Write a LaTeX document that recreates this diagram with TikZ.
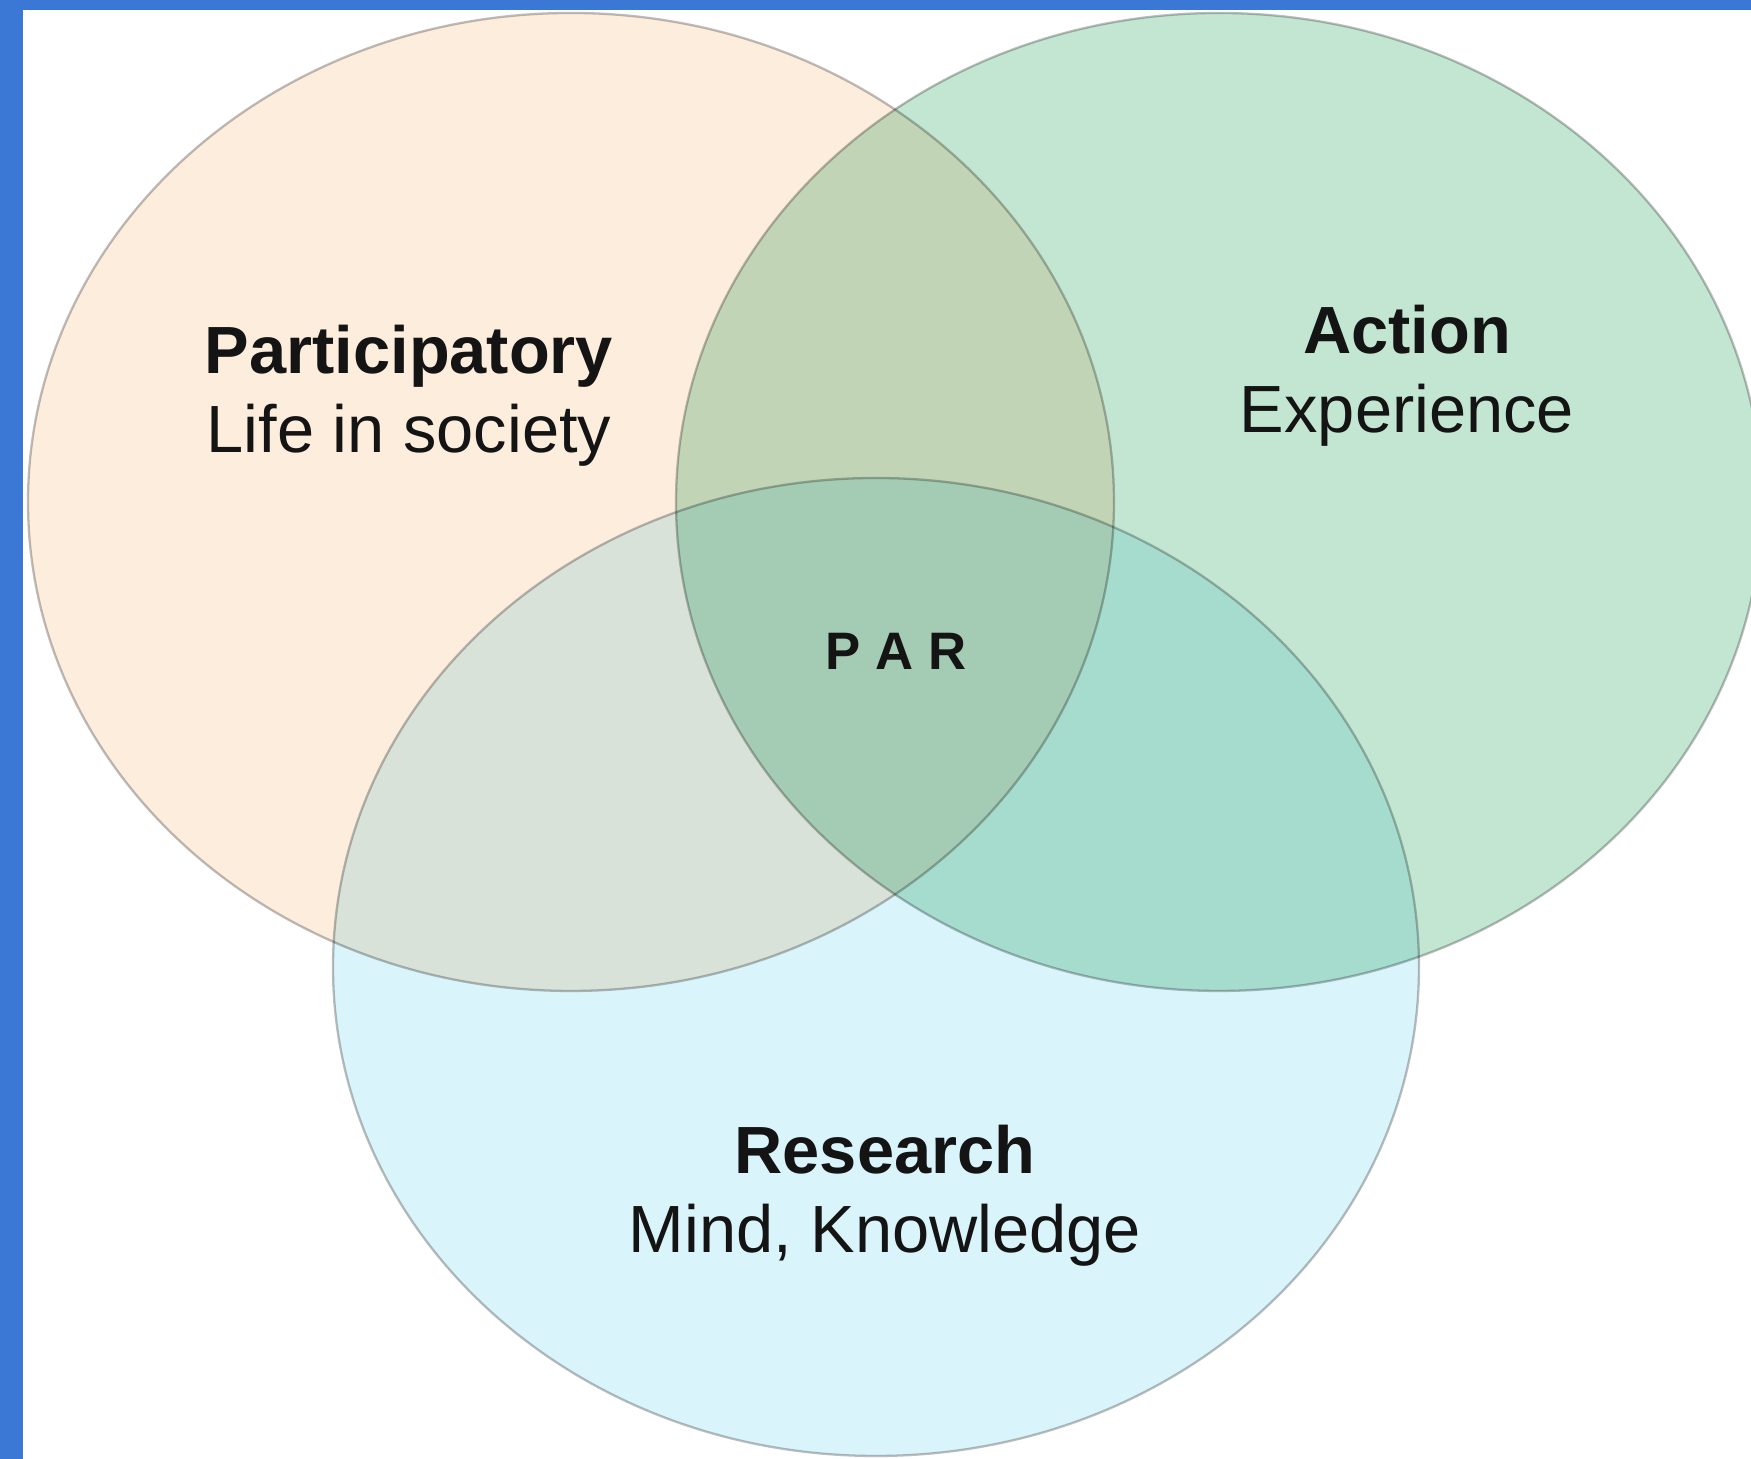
\documentclass[tikz,border=0pt]{standalone}
\usepackage{fontspec}
\setmainfont{Liberation Sans}
\usepackage{tikz}
\usetikzlibrary{positioning}

\definecolor{frameblue}{HTML}{3B78D5}
\definecolor{lifepeach}{HTML}{FDEDDD}
\definecolor{actmint}{HTML}{C3E6D2}
\definecolor{mindcyan}{HTML}{DAF4FB}
\definecolor{rimgray}{HTML}{BDBDBD}

\begin{document}
\begin{tikzpicture}[
  set/.style={draw=rimgray, line width=0.65pt},
  tag/.style={align=center, text=black!92, inner sep=0pt,
    font=\fontsize{19}{22.5}\selectfont}
]
  \useasboundingbox (0,0) rectangle (17.51,14.59);
  \fill[white] (0,0) rectangle (17.51,14.59);

  % the three sets, overlaps darken each other
  \begin{scope}[blend group=multiply]
    \filldraw[set, fill=lifepeach] (5.71,9.57) ellipse [x radius=5.43, y radius=4.89];
    \filldraw[set, fill=actmint] (12.19,9.57) ellipse [x radius=5.43, y radius=4.89];
    \filldraw[set, fill=mindcyan] (8.76,4.92) ellipse [x radius=5.43, y radius=4.89];
  \end{scope}

  % frame
  \fill[frameblue] (0,0) rectangle (0.23,14.59);
  \fill[frameblue] (0,14.49) rectangle (17.51,14.59);

  \node (part) [tag] at (4.09,10.63) {\textbf{Participatory}\\Life in society};
  \node (act) [tag] at (14.07,10.83) {\textbf{Action}\\Experience};
  \node (res) [tag] at (8.85,2.63) {\textbf{Research}\\Mind, Knowledge};
  \node (par) [text=black!92, font=\fontsize{15}{18}\selectfont\bfseries] at (8.96,8.08) {P A R};
\end{tikzpicture}
\end{document}
